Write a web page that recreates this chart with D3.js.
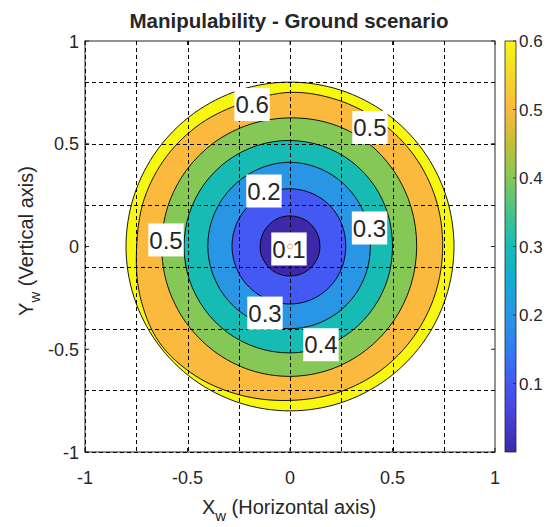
<!DOCTYPE html>
<html><head><meta charset="utf-8">
<script src="https://cdn.jsdelivr.net/npm/d3@7"></script>
<style>
body{margin:0;background:#fff}
svg{display:block}
text{font-family:"Liberation Sans",Arial,sans-serif;fill:#262626}
</style>
</head><body><svg id="c" width="547" height="527"></svg>
<script>
// ---------- data ----------
const title = "Manipulability - Ground scenario";
const xTicks = [-1, -0.5, 0, 0.5, 1];
const yTicks = [-1, -0.5, 0, 0.5, 1];
const xGrid = [-1, -0.75, -0.5, -0.25, 0, 0.25, 0.5, 0.75];
const yGrid = [-1, -0.7, -0.4, -0.1, 0.2, 0.5, 0.8];
const cbTicks = [0.1, 0.2, 0.3, 0.4, 0.5, 0.6];
const levels = [0.1, 0.2, 0.3, 0.4, 0.5, 0.6];
// polar sample angles (degrees) at which contour radii were read
const anglesDeg = [0,18,36,54,72,90,108,126,144,162,180,198,216,234,252,270,288,306,324,342];
const rBoundary = [0.80,0.80,0.80,0.80,0.80,0.80,0.80,0.80,0.80,0.80,0.80,0.80,0.80,0.80,0.80,0.80,0.80,0.80,0.80,0.80];
const r06 = [0.745,0.748,0.750,0.750,0.750,0.750,0.735,0.740,0.745,0.748,0.748,0.770,0.790,0.780,0.762,0.749,0.748,0.748,0.746,0.745];
const r05 = [0.618,0.621,0.626,0.632,0.630,0.626,0.626,0.627,0.627,0.627,0.626,0.627,0.628,0.630,0.632,0.632,0.630,0.626,0.622,0.619];
const r04 = [0.500,0.503,0.507,0.511,0.514,0.516,0.517,0.517,0.517,0.517,0.517,0.517,0.517,0.518,0.518,0.518,0.515,0.510,0.505,0.502];
const r03 = [0.392,0.395,0.399,0.403,0.407,0.410,0.408,0.405,0.403,0.402,0.401,0.400,0.400,0.400,0.400,0.400,0.399,0.397,0.395,0.393];
const r02 = [0.272,0.274,0.277,0.279,0.280,0.281,0.282,0.283,0.283,0.283,0.283,0.282,0.281,0.280,0.280,0.280,0.279,0.277,0.275,0.273];
const r01 = [0.146,0.147,0.148,0.149,0.149,0.149,0.149,0.148,0.147,0.146,0.146,0.146,0.145,0.145,0.144,0.144,0.144,0.145,0.145,0.146];
// contour labels
const labelText = ["0.6","0.5","0.2","0.3","0.1","0.3","0.4","0.5"];
const labelX = [-0.185, 0.390, -0.127, 0.388, -0.005, -0.122, 0.151, -0.605];
const labelY = [0.691, 0.579, 0.270, 0.090, -0.012, -0.324, -0.478, 0.032];
// parula-like colormap stops
const cmapVals = [0,0.05,0.1,0.15,0.2,0.25,0.3,0.35,0.4,0.45,0.5,0.55,0.6];
const cmapCols = ["#3d29a8","#4740d8","#4458f4","#327cf0","#2896e4","#12acd4","#16bcb4","#45c48c","#86c856","#c3bf36","#fbb93d","#f4d82a","#f8f710"];

// ---------- layout ----------
const svg = d3.select("#c");
const L = 85, R = 495, T = 41, B = 452;
const x = d3.scaleLinear().domain([-1,1]).range([L,R]);
const y = d3.scaleLinear().domain([-1,1]).range([B,T]);
const color = d3.scaleLinear().domain(cmapVals).range(cmapCols).interpolate(d3.interpolateRgb);
const cbY = d3.scaleLinear().domain([0,0.6]).range([B,T]);

const line = d3.line().curve(d3.curveCatmullRomClosed.alpha(0.5));
function poly(rs){
  return line(anglesDeg.map((a,i)=>{
    const t = a*Math.PI/180;
    return [x(rs[i]*Math.cos(t)), y(rs[i]*Math.sin(t))];
  }));
}

// filled contours, outermost first
const rings = [rBoundary, r06, r05, r04, r03, r02, r01];
const ringFillVal = [0.6, 0.5, 0.4, 0.3, 0.2, 0.1, 0.0];
const g = svg.append("g");
rings.forEach((rs,i)=>{
  g.append("path").attr("d", poly(rs)).attr("fill", color(ringFillVal[i]))
   .attr("stroke","#000").attr("stroke-width",0.9).attr("stroke-linejoin","round");
});

// axes box
svg.append("rect").attr("x",L).attr("y",T).attr("width",R-L).attr("height",B-T)
  .attr("fill","none").attr("stroke","#262626").attr("stroke-width",1);

// grid (dashed)
const grid = svg.append("g").attr("stroke","#000").attr("stroke-width",1).attr("stroke-dasharray","4,3");
xGrid.forEach(v=>grid.append("line").attr("x1",Math.round(x(v))+0.5).attr("x2",Math.round(x(v))+0.5).attr("y1",T).attr("y2",B));
yGrid.forEach(v=>grid.append("line").attr("y1",Math.round(y(v))+0.5).attr("y2",Math.round(y(v))+0.5).attr("x1",L).attr("x2",R));

// ticks
const tk = svg.append("g").attr("stroke","#262626").attr("stroke-width",1);
xTicks.forEach(v=>{
  tk.append("line").attr("x1",x(v)).attr("x2",x(v)).attr("y1",B).attr("y2",B-4);
  tk.append("line").attr("x1",x(v)).attr("x2",x(v)).attr("y1",T).attr("y2",T+4);
});
yTicks.forEach(v=>{
  tk.append("line").attr("y1",y(v)).attr("y2",y(v)).attr("x1",L).attr("x2",L+4);
  tk.append("line").attr("y1",y(v)).attr("y2",y(v)).attr("x1",R).attr("x2",R-4);
});

// tick labels
const fmt = v => String(v);
xTicks.forEach(v=>svg.append("text").attr("x",x(v)).attr("y",484).attr("text-anchor","middle")
  .attr("font-size",18).text(fmt(v)));
yTicks.forEach(v=>svg.append("text").attr("x",79).attr("y",y(v)+6.5).attr("text-anchor","end")
  .attr("font-size",18).text(fmt(v)));

// title
svg.append("text").attr("x",289).attr("y",28).attr("text-anchor","middle")
  .attr("font-size",20.5).attr("font-weight","bold").attr("fill","#000").text(title);

// x label
const xl = svg.append("text").attr("x",289).attr("y",514).attr("text-anchor","middle").attr("font-size",20);
xl.append("tspan").text("X");
xl.append("tspan").attr("dy",7).attr("font-size",15).text("w");
xl.append("tspan").attr("dy",-7).text(" (Horizontal axis)");

// y label
const yl = svg.append("text").attr("transform","translate(33,241) rotate(-90)").attr("text-anchor","middle").attr("font-size",20);
yl.append("tspan").text("Y");
yl.append("tspan").attr("dy",7).attr("font-size",15).text("w");
yl.append("tspan").attr("dy",-7).text(" (Vertical axis)");

// colorbar
const defs = svg.append("defs");
const grad = defs.append("linearGradient").attr("id","cb").attr("x1",0).attr("y1",1).attr("x2",0).attr("y2",0);
d3.range(0,61).forEach(i=>{
  const v = i*0.01;
  grad.append("stop").attr("offset",(v/0.6)).attr("stop-color",color(v));
});
const cbX = 505, cbW = 11;
svg.append("rect").attr("x",cbX).attr("y",cbY(0.6)).attr("width",cbW).attr("height",cbY(0)-cbY(0.6))
  .attr("fill","url(#cb)").attr("stroke","#262626").attr("stroke-width",0.8);
cbTicks.forEach(v=>{
  svg.append("line").attr("x1",cbX+cbW).attr("x2",cbX+cbW-3).attr("y1",cbY(v)).attr("y2",cbY(v))
    .attr("stroke","#262626").attr("stroke-width",0.8);
  svg.append("text").attr("x",519).attr("y",cbY(v)+6).attr("font-size",17).text(fmt(v));
});

// contour labels with white boxes
const lg = svg.append("g");
labelText.forEach((t,i)=>{
  const cx = x(labelX[i]), cy = y(labelY[i]);
  const tx = lg.append("text").attr("x",cx).attr("y",cy+8.6).attr("text-anchor","middle")
    .attr("font-family","'Liberation Sans Narrow','Arial Narrow',sans-serif").attr("font-size",24)
    .attr("fill","#000").text(t);
  const bb = tx.node().getBBox();
  lg.insert("rect","text").attr("x",bb.x-1).attr("y",cy-16.5).attr("width",bb.width+2).attr("height",33)
    .attr("fill","#fff");
});
// marker at origin
svg.append("circle").attr("cx",x(0)).attr("cy",y(0)).attr("r",2.5)
  .attr("fill","none").attr("stroke","#f0a58f").attr("stroke-width",1);
</script></body></html>
